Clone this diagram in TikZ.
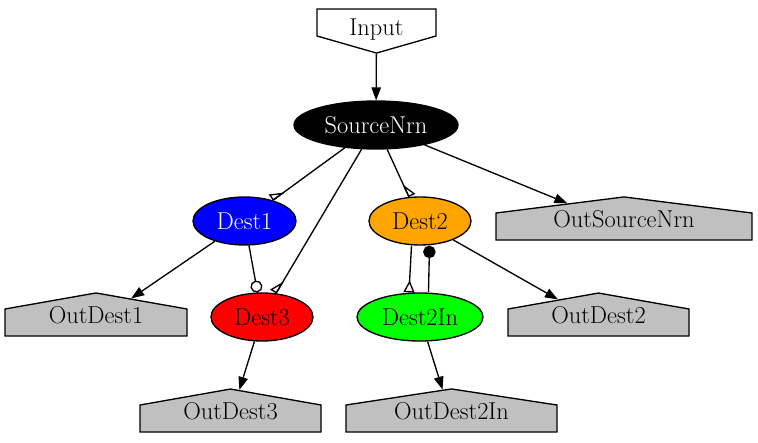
\documentclass[tikz,border=0pt]{standalone}
\usepackage{fontspec}
\usetikzlibrary{arrows.meta,shapes.geometric,shapes.symbols}
\definecolor{outgray}{RGB}{192,192,192}
\definecolor{dorange}{RGB}{255,165,0}
\definecolor{dgreen}{RGB}{0,255,0}

\begin{document}
\begin{tikzpicture}[x=1pt,y=-1pt,line width=1.33pt,font=\fontsize{24.4}{28}\selectfont,
  nrn/.style={ellipse,draw,inner sep=0pt,minimum height=48pt,minimum width=#1},
  house/.style 2 args={signal,signal to=north,draw,fill=outgray,inner sep=0pt,
    text height=14.3pt,text depth=12.7pt,minimum width=#1,signal pointer angle=#2},
  tipn/.style={-{Triangle[length=13pt,width=9.5pt]}},
  tiphl/.style={-{Triangle[open,reversed,left,length=13pt,width=14pt]}},
  tiphr/.style={-{Triangle[open,reversed,right,length=13pt,width=14pt]}}]
  \useasboundingbox (0,0) rectangle (758,443);

  % inputs and neurons
  \node[signal,signal to=south,draw,fill=white,inner sep=0pt,text height=26.3pt,
    text depth=0.7pt,minimum width=119pt,signal pointer angle=148] (in) at (376.5,22.5) {Input};
  \node[nrn=164pt,fill=black,text=white] (src) at (376,125) {SourceNrn};
  \node[nrn=103pt,fill=blue,text=white] (d1) at (244.5,221) {Dest1};
  \node[nrn=102pt,fill=dorange] (d2) at (420,221) {Dest2};
  \node[nrn=102pt,fill=red] (d3) at (262,317) {Dest3};
  \node[nrn=126pt,fill=dgreen] (d2in) at (420,317) {Dest2In};

  % outputs
  \node[house={256pt}{165.7}] (osrc) at (624,226.5) {OutSourceNrn};
  \node[house={182pt}{160}] (od1) at (96,322.5) {OutDest1};
  \node[house={181pt}{160}] (od2) at (598.5,322.5) {OutDest2};
  \node[house={181pt}{160}] (od3) at (230.5,418.5) {OutDest3};
  \node[house={211pt}{162.7}] (od2in) at (451.5,418.5) {OutDest2In};

  \foreach \a/\b in {in/src,src/osrc,d1/od1,d2/od2,d3/od3,d2in/od2in}
    \draw[tipn] (\a) -- (\b);
  \draw[tiphr] (src) -- (d1);
  \draw[tiphr] (src) -- (d3);
  \draw[tiphl] (src) -- (d2);
  \draw[-{Circle[open,length=12pt]}] (d1) -- (d3);
  \draw[-{Triangle[open,reversed,length=12pt,width=11pt]}] ([xshift=-8.5pt]d2.south) -- ([xshift=-11pt]d2in.north);
  \draw[-{Circle[length=12.5pt]}] ([xshift=8.5pt]d2in.north) -- ([xshift=9.5pt]d2.south);
\end{tikzpicture}
\end{document}
